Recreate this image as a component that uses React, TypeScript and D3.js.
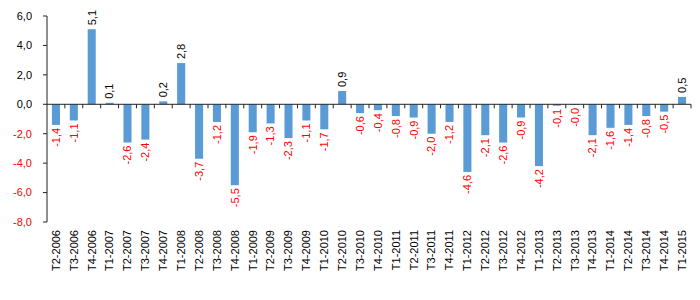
import React from "react";
import * as d3 from "d3";

const categories = [
  "T2-2006","T3-2006","T4-2006","T1-2007","T2-2007","T3-2007","T4-2007","T1-2008",
  "T2-2008","T3-2008","T4-2008","T1-2009","T2-2009","T3-2009","T4-2009","T1-2010",
  "T2-2010","T3-2010","T4-2010","T1-2011","T2-2011","T3-2011","T4-2011","T1-2012",
  "T2-2012","T3-2012","T4-2012","T1-2013","T2-2013","T3-2013","T4-2013","T1-2014",
  "T2-2014","T3-2014","T4-2014","T1-2015",
];
const values = [
  -1.4, -1.1, 5.1, 0.1, -2.6, -2.4, 0.2, 2.8,
  -3.7, -1.2, -5.5, -1.9, -1.3, -2.3, -1.1, -1.7,
  0.9, -0.6, -0.4, -0.8, -0.9, -2.0, -1.2, -4.6,
  -2.1, -2.6, -0.9, -4.2, -0.1, -0.04, -2.1, -1.6,
  -1.4, -0.8, -0.5, 0.5,
];
const yTicks = [6, 4, 2, 0, -2, -4, -6, -8];

const fmt = (v: number) => (v < 0 ? "-" : "") + Math.abs(v).toFixed(1).replace(".", ",");

export default function App() {
  const W = 700, H = 300;
  const left = 47, right = 691, top = 16, bottom = 222;
  const x = d3.scaleBand<string>().domain(categories).range([left, right]).paddingInner(0.55).paddingOuter(0.275);
  const y = d3.scaleLinear().domain([-8, 6]).range([bottom, top]);
  const y0 = y(0);
  const step = x.step();
  const font = "'Liberation Sans', Arial, sans-serif";
  const red = "#FF0000";
  return (
    <svg width={W} height={H} style={{ position: "absolute", left: 0, top: 0, background: "#fff" }} fontFamily={font}>
      {/* bars */}
      {values.map((v, i) => {
        const c = categories[i];
        const yv = y(v);
        return (
          <rect key={c} x={x(c)} y={Math.min(yv, y0)} width={x.bandwidth()} height={Math.abs(yv - y0)} fill="#5B9BD5" />
        );
      })}
      {/* y axis */}
      <line x1={left} x2={left} y1={top} y2={bottom} stroke="#222" strokeWidth={1} />
      {yTicks.map((t) => (
        <g key={t}>
          <line x1={left - 4} x2={left} y1={y(t)} y2={y(t)} stroke="#222" />
          <text x={32} y={y(t)} dy="0.35em" textAnchor="end" fontSize={11} fill={t < 0 ? red : "#000"}>
            {fmt(t)}
          </text>
        </g>
      ))}
      {/* x axis */}
      <line x1={left} x2={right} y1={y0} y2={y0} stroke="#222" strokeWidth={1} />
      {categories.map((c, i) => (
        <line key={"t" + c} x1={left + step * (i + 1)} x2={left + step * (i + 1)} y1={y0} y2={y0 + 4} stroke="#222" />
      ))}
      {/* x labels */}
      {categories.map((c) => {
        const cx = x(c)! + x.bandwidth() / 2;
        return (
          <text key={"l" + c} transform={`translate(${cx},${230}) rotate(-90)`} dy="0.35em" textAnchor="end" fontSize={11} fill="#000">
            {c}
          </text>
        );
      })}
      {/* data labels */}
      {values.map((v, i) => {
        const c = categories[i];
        const cx = x(c)! + x.bandwidth() / 2;
        const yv = y(v);
        const neg = v < 0;
        const ly = neg ? yv + 3 : yv - 4;
        return (
          <text key={"d" + c} transform={`translate(${cx},${ly}) rotate(-90)`} dy="0.35em" textAnchor={neg ? "end" : "start"} fontSize={11} fill={neg ? red : "#000"}>
            {fmt(v)}
          </text>
        );
      })}
    </svg>
  );
}
